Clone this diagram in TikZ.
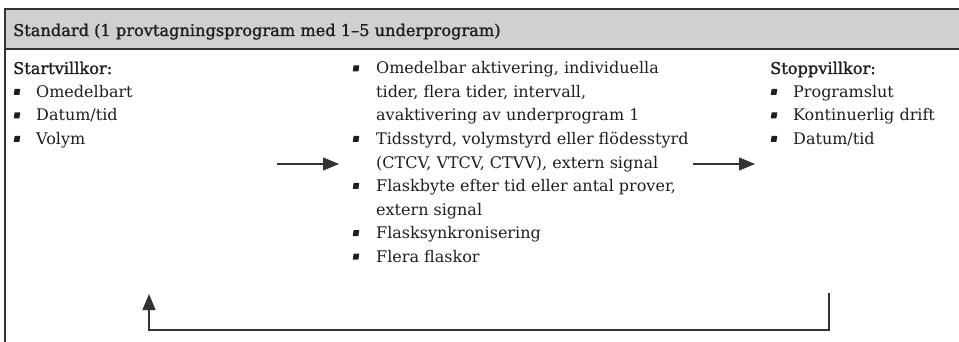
\documentclass[tikz,border=0pt]{standalone}
\usepackage{fontspec}
\setmainfont{DejaVu Serif}
\newfontfamily\headfont[FakeBold=1.3]{DejaVu Serif}
\usetikzlibrary{arrows.meta}
\definecolor{linec}{HTML}{333333}
\definecolor{headbg}{HTML}{D0D0D0}
\definecolor{txtc}{HTML}{1E1E1E}
\tikzset{
  frame/.style={draw=linec, line width=1.3pt},
  txt/.style={anchor=base west, inner sep=0pt, text=txtc, font=\fontsize{16}{23.5}\selectfont},
  headtxt/.style={txt, font=\fontsize{16.2}{23.5}\selectfont\headfont},
  bul/.style={fill=txtc, inner sep=0pt, minimum width=5.6pt, minimum height=6pt, xslant=0.15},
  flow/.style={draw=linec, line width=1.3pt, -{Triangle[length=16pt,width=13pt]}},
}
\begin{document}
\begin{tikzpicture}[x=1pt,y=-1pt]
\useasboundingbox (0,0) rectangle (959,342);
% header band and frame
\fill[headbg] (5,9) rectangle (962,49);
\draw[frame] (962,9) -- (5,9) -- (5,345);
\draw[frame] (5,49) -- (962,49);
\node[headtxt] (title) at (13,36) {Standard (1 provtagningsprogram med 1–5 underprogram)};
% left column
\node[headtxt] (start) at (13,74) {Startvillkor:};
\node[bul] (b1) at (17,92) {};
\node[txt] (s1) at (36,97.5) {Omedelbart};
\node[bul] (b2) at (17,115.5) {};
\node[txt] (s2) at (36,121) {Datum/tid};
\node[bul] (b3) at (17,139) {};
\node[txt] (s3) at (36,144.5) {Volym};
% middle column
\node[bul] (m1) at (356,68.5) {};
\node[txt] (t1a) at (376,74) {Omedelbar aktivering, individuella};
\node[txt] (t1b) at (376,97.5) {tider, flera tider, intervall,};
\node[txt] (t1c) at (376,121) {avaktivering av underprogram 1};
\node[bul] (m2) at (356,139) {};
\node[txt] (t2a) at (376,144.5) {Tidsstyrd, volymstyrd eller flödesstyrd};
\node[txt] (t2b) at (376,168) {(CTCV, VTCV, CTVV), extern signal};
\node[bul] (m3) at (356,186) {};
\node[txt] (t3a) at (376,191.5) {Flaskbyte efter tid eller antal prover,};
\node[txt] (t3b) at (376,215) {extern signal};
\node[bul] (m4) at (356,233) {};
\node[txt] (t4) at (376,238.5) {Flasksynkronisering};
\node[bul] (m5) at (356,256.5) {};
\node[txt] (t5) at (376,262) {Flera flaskor};
% right column
\node[headtxt] (stop) at (770,74) {Stoppvillkor:};
\node[bul] (r1) at (774,92) {};
\node[txt] (p1) at (793,97.5) {Programslut};
\node[bul] (r2) at (774,115.5) {};
\node[txt] (p2) at (793,121) {Kontinuerlig drift};
\node[bul] (r3) at (774,139) {};
\node[txt] (p3) at (793,144.5) {Datum/tid};
% arrows
\coordinate (a1s) at (277,164);
\coordinate (a1e) at (339,164);
\coordinate (a2s) at (693,164);
\coordinate (a2e) at (755,164);
\draw[flow] (a1s) -- (a1e);
\draw[flow] (a2s) -- (a2e);
\coordinate (rs) at (829,293);
\coordinate (re) at (149,294);
\draw[flow] (rs) -- (829,330) -- (149,330) -- (re);
\end{tikzpicture}
\end{document}
